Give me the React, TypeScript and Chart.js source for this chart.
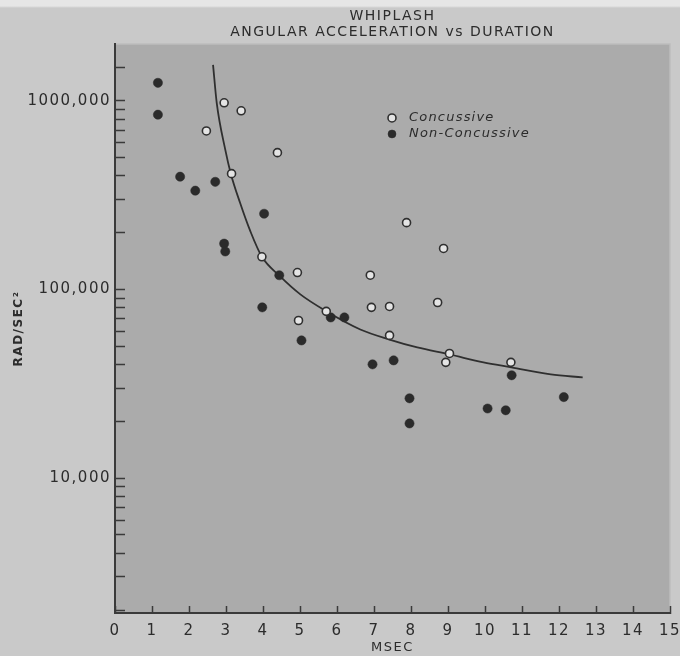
import React, { useEffect, useRef } from "react";
import { Chart, registerables } from "chart.js";

Chart.register(...registerables);

// ---- data ----
const concussiveX = [2.47, 2.95, 3.41, 3.15, 4.39, 3.97, 4.93, 4.96, 5.71, 6.9, 6.93, 7.42, 7.42, 7.88, 8.88, 8.72, 9.04, 8.94, 10.7];
const concussiveY = [692000, 976000, 885000, 411000, 531000, 149000, 123000, 68500, 76600, 119000, 80400, 81300, 57100, 226000, 165000, 85300, 45800, 41100, 41100];

const nonConcussiveX = [1.16, 1.16, 1.76, 2.17, 2.71, 2.95, 2.98, 4.03, 4.44, 3.98, 5.04, 5.83, 6.2, 6.96, 7.53, 7.96, 7.96, 10.07, 10.56, 10.72, 12.13];
const nonConcussiveY = [1245000, 844000, 396000, 334000, 372000, 175000, 159000, 252000, 119000, 80400, 53700, 71100, 71100, 40100, 42100, 26500, 19500, 23400, 22900, 35100, 26900];

const curveX = [2.65, 2.75, 2.98, 3.13, 3.38, 3.66, 3.97, 4.45, 5.01, 5.71, 6.63, 7.42, 8.17, 9.04, 9.96, 10.71, 11.78, 12.64];
const curveY = [1550000, 972000, 551000, 411000, 288000, 203000, 149000, 118000, 94200, 76700, 61400, 54300, 49300, 45300, 41100, 38700, 35500, 34200];

const seriesLabels = ["Concussive", "Non-Concussive"];
const titleLines = ["WHIPLASH", "ANGULAR ACCELERATION vs DURATION"];
const xAxisTitle = "MSEC";
const yAxisTitle = "RAD/SEC\u00B2";

const yLabelValues = [10000, 100000, 1000000];
const yLabelTexts = ["10,000", "100,000", "1000,000"];
const yDecades = [1000, 10000, 100000];
const yMultipliers = [1, 2, 3, 4, 5, 6, 7, 8, 9];
const yExtraTicks = [1000000, 1500000];

const FONT = '"DejaVu Sans", sans-serif';
const INK = "#2c2c2c";

const zip = (xs: number[], ys: number[]) => xs.map((x, i) => ({ x, y: ys[i] }));

const plotBackground = {
  id: "plotBackground",
  beforeDraw(chart: any) {
    const { ctx, chartArea: a } = chart;
    ctx.letterSpacing = "1.5px";
    ctx.save();
    ctx.fillStyle = "#ababab";
    ctx.fillRect(a.left, a.top, a.right - a.left, a.bottom - a.top);
    ctx.strokeStyle = "#bdbdbd";
    ctx.lineWidth = 1.5;
    ctx.beginPath();
    ctx.moveTo(a.left, a.top);
    ctx.lineTo(a.right, a.top);
    ctx.lineTo(a.right, a.bottom);
    ctx.stroke();
    ctx.restore();
  },
};

const insetLegend = {
  id: "insetLegend",
  afterDatasetsDraw(chart: any) {
    const { ctx, chartArea: a } = chart;
    const x = a.left + 277;
    const y0 = a.top + 74;
    seriesLabels.forEach((label, i) => {
      const ds = chart.data.datasets[i];
      const y = y0 + i * 16;
      ctx.save();
      ctx.beginPath();
      ctx.arc(x, y, 4, 0, Math.PI * 2);
      ctx.fillStyle = ds.backgroundColor;
      ctx.fill();
      ctx.lineWidth = ds.borderWidth;
      ctx.strokeStyle = ds.borderColor;
      ctx.stroke();
      ctx.font = `italic 13px ${FONT}`;
      ctx.letterSpacing = "1.2px";
      ctx.fillStyle = INK;
      ctx.textBaseline = "middle";
      ctx.textAlign = "left";
      ctx.fillText(label, x + 17, y);
      ctx.restore();
    });
  },
};

export default function App() {
  const ref = useRef<HTMLCanvasElement | null>(null);

  useEffect(() => {
    if (!ref.current) return;
    const yTicks: number[] = [];
    yDecades.forEach((d) =>
      yMultipliers.forEach((m) => {
        if (d * m >= 1930) yTicks.push(d * m);
      })
    );
    yExtraTicks.forEach((v) => yTicks.push(v));

    const chart = new Chart(ref.current, {
      type: "scatter",
      data: {
        datasets: [
          {
            label: seriesLabels[0],
            data: zip(concussiveX, concussiveY),
            pointRadius: 4,
            pointHoverRadius: 4,
            borderWidth: 1.6,
            backgroundColor: "#e4e4e4",
            borderColor: "#2f2f2f",
          },
          {
            label: seriesLabels[1],
            data: zip(nonConcussiveX, nonConcussiveY),
            pointRadius: 4.6,
            pointHoverRadius: 4.6,
            borderWidth: 0.5,
            backgroundColor: "#2b2b2b",
            borderColor: "#2b2b2b",
          },
          {
            type: "line",
            label: "fit",
            data: zip(curveX, curveY),
            showLine: true,
            pointRadius: 0,
            borderColor: "#2f2f2f",
            borderWidth: 1.8,
            cubicInterpolationMode: "monotone",
            fill: false,
          } as any,
        ],
      },
      options: {
        responsive: false,
        animation: false,
        layout: { padding: { left: 0, top: 0, right: 10, bottom: 0 } },
        plugins: {
          legend: { display: false },
          tooltip: { enabled: false },
          title: {
            display: true,
            fullSize: false,
            text: titleLines,
            color: INK,
            font: { family: FONT, size: 14, weight: "normal", lineHeight: 1.16 },
            padding: { top: 8, bottom: 3.5 },
          },
        },
        scales: {
          x: {
            type: "linear",
            min: 0,
            max: 15,
            afterFit: (s: any) => {
              s.height = 43;
              s.paddingLeft = 0;
              s.paddingRight = 0;
            },
            ticks: {
              stepSize: 1,
              autoSkip: false,
              maxRotation: 0,
              padding: 16,
              color: INK,
              font: { family: FONT, size: 15 },
            },
            grid: {
              drawOnChartArea: false,
              drawTicks: true,
              tickLength: -7,
              tickColor: "#3a3a3a",
              tickWidth: 1.5,
            },
            border: { display: true, color: "#3a3a3a", width: 2 },
            title: {
              display: true,
              text: xAxisTitle,
              color: INK,
              font: { family: FONT, size: 13 },
              padding: { top: 0, bottom: 1 },
            },
          },
          y: {
            type: "logarithmic",
            min: 1930,
            max: 2000000,
            bounds: "data",
            afterFit: (s: any) => {
              s.width = 115;
              s.paddingTop = 0;
              s.paddingBottom = 0;
            },
            afterBuildTicks: (s: any) => {
              s.ticks = yTicks.map((v) => ({ value: v }));
            },
            ticks: {
              autoSkip: false,
              padding: 14,
              color: INK,
              font: { family: FONT, size: 15 },
              callback: (v: any) => {
                const i = yLabelValues.indexOf(Number(v));
                return i >= 0 ? yLabelTexts[i] : "";
              },
            },
            grid: {
              drawOnChartArea: false,
              drawTicks: true,
              tickLength: -10,
              tickColor: "#3a3a3a",
              tickWidth: 1.5,
            },
            border: { display: true, color: "#3a3a3a", width: 2 },
            title: {
              display: true,
              text: yAxisTitle,
              color: INK,
              font: { family: FONT, size: 12, weight: "bold" },
              padding: { top: 12, bottom: 0 },
            },
          },
        },
      },
      plugins: [plotBackground, insetLegend],
    } as any);
    return () => chart.destroy();
  }, []);

  return (
    <div
      style={{
        position: "fixed",
        left: 0,
        top: 0,
        width: 680,
        height: 656,
        background: "linear-gradient(#e6e6e6 0px, #e6e6e6 6px, #c9c9c9 8px, #c9c9c9 100%)",
      }}
    >
      <canvas ref={ref} width={680} height={656} style={{ display: "block" }} />
    </div>
  );
}
